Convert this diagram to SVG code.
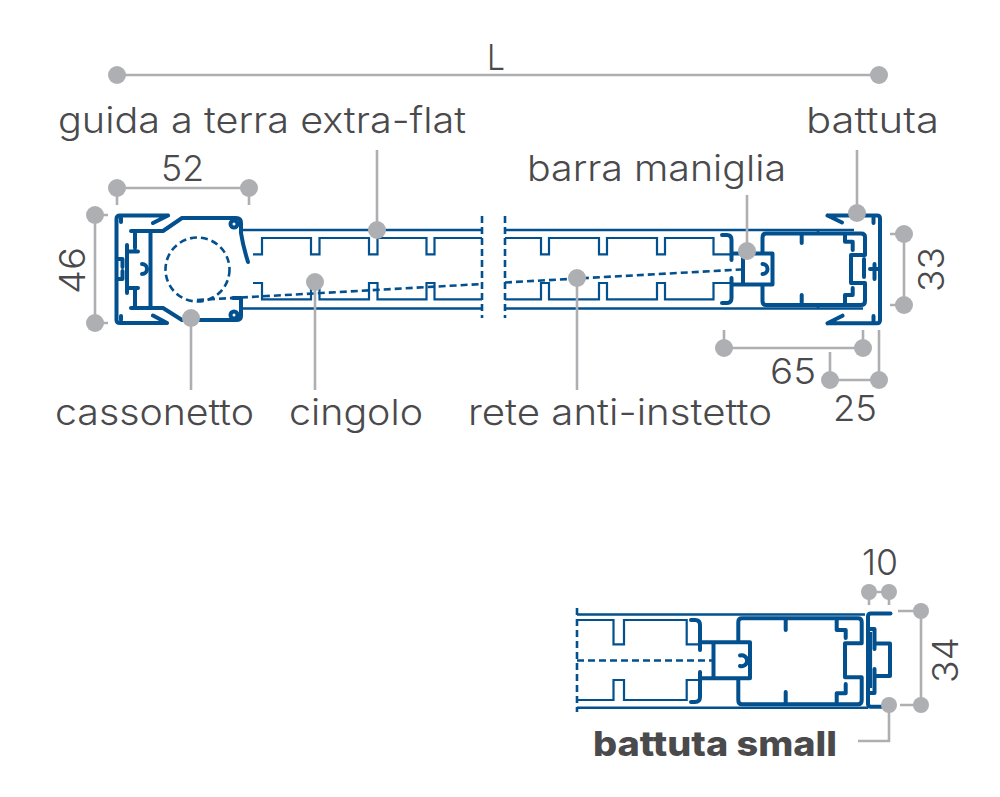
<svg xmlns="http://www.w3.org/2000/svg" width="1000" height="797" viewBox="0 0 1000 797">
<style>
.p{fill:none;stroke:#03508f;stroke-width:4;stroke-linecap:round;stroke-linejoin:round}
.m{fill:none;stroke:#03508f;stroke-width:2.600;stroke-linejoin:miter}
.t{fill:none;stroke:#03508f;stroke-width:2.200}
.d{fill:none;stroke:#03508f;stroke-width:2.600;stroke-dasharray:7 4}
.g{fill:none;stroke:#aeafb3;stroke-width:2.600}
.c{fill:#aeafb3}
text{font-family:"Inter","Liberation Sans",sans-serif;font-size:36px;font-weight:300;fill:#4a4a4c}
.b{font-weight:800;font-size:34px}
</style>
<rect width="1000" height="797" fill="#fff"/>
<g id="profile-cassonetto">
<path class="p" d="M168 215.500H120Q116.500 215.500 116.500 219V320Q116.500 323 120 323H167M168 215.500L153 223M167 323L153 315.500"/>
<path class="p" d="M121 218V222M121 316V320M131 231H163L182 218H236Q241 218 241 223V233Q243 246 248 262M131 308H163L182 320H236Q241 320 241 316V298H233"/>
<path class="p" d="M150.500 231V308M135 231V248M135 290V308M127 245V293M127 251.500H138M127 288H138M117 259H122.500V267M117 279H122.500V271"/>
<path class="p" d="M142 264A5 5 0 1 1 142 274"/>
<circle cx="234" cy="224" r="3.500" class="p"/><circle cx="234" cy="315" r="3.500" class="p"/>
<circle cx="197.500" cy="269.500" r="32" class="d" stroke-dasharray="6 4"/>
</g>
<g id="guida-a-terra">
<path class="m" d="M241 230H482M505 230H854M241 308.500H482M505 308.500H863"/>
<path class="t" d="M253 254.300H262V238H311V254.300H319.500V238H369V254.300H377.500V238H426.500V254.300H434.500V238H482M505 238H541V254.300H549V238H599V254.300H607V238H657V254.300H665V238H713.500V254.300H730"/>
<path class="t" d="M253 283H262V299.300H311V283H319.500V299.300H369V283H377.500V299.300H426.500V283H434.500V299.300H482M505 299.300H541V283H549V299.300H599V283H607V299.300H657V283H665V299.300H713.500V283H730"/>
<path class="d" d="M482 216V318M505 216V318M197 300L482 284M505 282.500L741 269.500"/>
</g>
<g id="barra-maniglia">
<path class="p" d="M722 235H727Q731.500 235 731.500 240V260M731.500 278V298Q731.500 303 727 303H722M731.500 253.500H772.500V284.500H731.500M743 253.500V284.500M762.500 253.500V238Q762.500 233.500 766 233.500H861Q865 233.500 865 237V255H851V283H865V301Q865 305 861 305H766Q762.500 305 762.500 301V284.500M801.700 233.500V243M801.700 295V305M845 233.500V241.700H852.700V250M852.700 288V295H845V305"/>
<path class="p" d="M762.500 264A5 5 0 1 1 762.500 274"/>
<path class="m" d="M818 230.500V233M818 305V308"/>
</g>
<g id="battuta">
<path class="p" d="M827.500 215.500H877Q880 215.500 880 218.500V320Q880 323.300 877 323.300H827.500M827.500 215.500L842 222.500M827.500 323.300L842.500 315.700M873.500 218V223M873.500 316V321M864 259V277M870 269H879M874.500 264V279"/>
</g>
<g id="profilo-small">
<path class="m" d="M577 614.500H865M577 707.700H868"/>
<path class="t" d="M577 620H613.500V644.300H624V620H686.700V644.300H700M577 700H613.500V680H624V700H686.700V680H700"/>
<path class="d" d="M577 608V712M577 660.500H714"/>
<path class="p" d="M691 620H695Q700 620 700 625V650M700 672V697Q700 702 695 702H691M700 642.300H750V678.300H700M713.500 642.300V678.300M738.300 642.300V622Q738.300 618.300 742 618.300H858Q861.700 618.300 861.700 622V643.300H845V677.300H861.700V700Q861.700 704.300 858 704.300H742Q738.300 704.300 738.300 700V678.300M785.700 618.300V630M785.700 692V704.300M836.700 618.300V630H845.700V638M845.700 684V693.300H836.700V704.300"/>
<path class="p" d="M740 655.500A5.500 5.500 0 1 1 740 666"/>
<path class="p" d="M890.500 613.500H871Q868 613.500 868 616.500V704Q868 706.800 871 706.800H883M868 629H874.500V649M868 693H874.500V669M874.500 643.500H890V676H874.500"/>
<path class="t" d="M871 632V688"/>
</g>
<g id="quote">
<path class="g" d="M117 75H879M117 188H249M117 188V205M249 188V205M95 215V323M95 215H108M95 323H108M904 234V305M904 234H890M904 305H890M724 348H863M724 348V330M863 348V330M830 380H879M830 380V352M879 380V330M869 592H889M869 592V605M889 592V605M921 611V705M921 611H898M921 705H900"/>
<path class="g" d="M377 150V230M857 150V213M747 195V251M191 318V390M315 282V390M577 278V390M889 705V741H858"/>
<g class="c">
<circle cx="117" cy="75" r="9"/><circle cx="879" cy="75" r="9"/><circle cx="117" cy="188" r="9"/><circle cx="249" cy="188" r="9"/><circle cx="95" cy="215" r="9"/><circle cx="95" cy="323" r="9"/><circle cx="904" cy="234" r="9"/><circle cx="904" cy="305" r="9"/><circle cx="724" cy="348" r="9"/><circle cx="863" cy="348" r="9"/><circle cx="830" cy="380" r="9"/><circle cx="879" cy="380" r="9"/><circle cx="869" cy="592" r="8"/><circle cx="889" cy="592" r="8"/><circle cx="921" cy="611" r="8"/><circle cx="921" cy="705" r="8"/><circle cx="889" cy="705" r="8"/>
<circle cx="377" cy="230" r="9"/><circle cx="857" cy="213" r="9"/><circle cx="747" cy="251" r="9"/><circle cx="191" cy="318" r="9"/><circle cx="315" cy="282" r="9"/><circle cx="577" cy="278" r="9"/>
</g>
</g>
<g id="testi">
<text x="487" y="70" textLength="18" lengthAdjust="spacingAndGlyphs">L</text>
<text x="58" y="133" textLength="408" lengthAdjust="spacingAndGlyphs">guida a terra extra-flat</text>
<text x="806" y="133" textLength="133" lengthAdjust="spacingAndGlyphs">battuta</text>
<text x="527" y="181" textLength="259" lengthAdjust="spacingAndGlyphs">barra maniglia</text>
<text x="161" y="181" textLength="43" lengthAdjust="spacingAndGlyphs">52</text>
<text x="55" y="425" textLength="199" lengthAdjust="spacingAndGlyphs">cassonetto</text>
<text x="289" y="425" textLength="134" lengthAdjust="spacingAndGlyphs">cingolo</text>
<text x="468" y="425" textLength="304" lengthAdjust="spacingAndGlyphs">rete anti-instetto</text>
<text x="770" y="384" textLength="46" lengthAdjust="spacingAndGlyphs">65</text>
<text x="833" y="421" textLength="44" lengthAdjust="spacingAndGlyphs">25</text>
<text x="862" y="575" textLength="36" lengthAdjust="spacingAndGlyphs">10</text>
<text transform="translate(85 294) rotate(-90)" textLength="47" lengthAdjust="spacingAndGlyphs">46</text>
<text transform="translate(944 292) rotate(-90)" textLength="45" lengthAdjust="spacingAndGlyphs">33</text>
<text transform="translate(958 683) rotate(-90)" textLength="46" lengthAdjust="spacingAndGlyphs">34</text>
<text class="b" x="593" y="756" textLength="244" lengthAdjust="spacingAndGlyphs">battuta small</text>
</g>
</svg>
